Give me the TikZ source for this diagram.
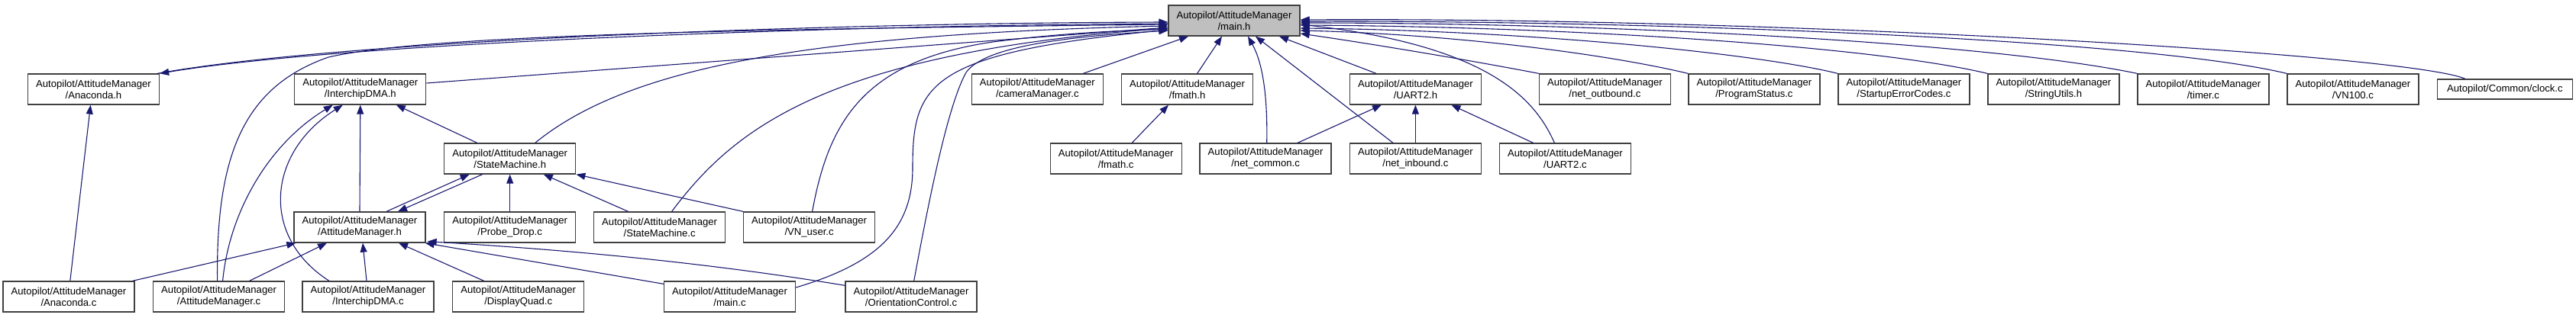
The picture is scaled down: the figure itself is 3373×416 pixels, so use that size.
\documentclass[tikz,border=0pt]{standalone}
\usepackage{fontspec}
\setmainfont{Liberation Sans}
\usetikzlibrary{arrows.meta,calc}
\definecolor{edgeblue}{HTML}{191970}
\definecolor{boxline}{HTML}{404040}
\definecolor{rootfill}{HTML}{BFBFBF}
\tikzset{
  file/.style={draw=boxline, line width=1.3pt, fill=white, minimum width=172pt, minimum height=40pt,
    inner sep=0pt, align=center, font=\fontsize{13.1}{15}\selectfont},
  rootfile/.style={file, fill=rootfill},
  onefile/.style={file, minimum width=177pt, minimum height=26pt},
  edge/.style={draw=edgeblue, line width=1.1pt, -{Triangle[length=12pt,width=9pt]}}
}
\begin{document}
\begin{tikzpicture}[x=1pt,y=-1pt]
\useasboundingbox (0,0) rectangle (3373,416);
% row 0
\node[rootfile] (mainh) at (1616,27) {Autopilot/AttitudeManager\\/main.h};
% row 1
\node[file] (anah)  at (122.5,117) {Autopilot/AttitudeManager\\/Anaconda.h};
\node[file] (idmah) at (471.8,117) {Autopilot/AttitudeManager\\/InterchipDMA.h};
\node[file] (camc)  at (1358.3,117) {Autopilot/AttitudeManager\\/cameraManager.c};
\node[file] (fmh)   at (1554.6,117) {Autopilot/AttitudeManager\\/fmath.h};
\node[file] (u2h)   at (1853.4,117) {Autopilot/AttitudeManager\\/UART2.h};
\node[file] (noc)   at (2101.4,117) {Autopilot/AttitudeManager\\/net\_outbound.c};
\node[file] (psc)   at (2296.9,117) {Autopilot/AttitudeManager\\/ProgramStatus.c};
\node[file] (sec)   at (2492.9,117) {Autopilot/AttitudeManager\\/StartupErrorCodes.c};
\node[file] (suh)   at (2688.9,117) {Autopilot/AttitudeManager\\/StringUtils.h};
\node[file] (tmc)   at (2884.9,117) {Autopilot/AttitudeManager\\/timer.c};
\node[file] (vnhc)  at (3080.9,117) {Autopilot/AttitudeManager\\/VN100.c};
\node[onefile] (clc) at (3279.9,117) {Autopilot/Common/clock.c};
% row 2
\node[file] (smh)  at (667.7,208) {Autopilot/AttitudeManager\\/StateMachine.h};
\node[file] (fmc)  at (1461.2,208) {Autopilot/AttitudeManager\\/fmath.c};
\node[file] (ncc)  at (1657.1,208) {Autopilot/AttitudeManager\\/net\_common.c};
\node[file] (nic)  at (1853.4,208) {Autopilot/AttitudeManager\\/net\_inbound.c};
\node[file] (u2c)  at (2049.4,208) {Autopilot/AttitudeManager\\/UART2.c};
% row 3
\node[file] (atth) at (471,298) {Autopilot/AttitudeManager\\/AttitudeManager.h};
\node[file] (pdc)  at (667.7,298) {Autopilot/AttitudeManager\\/Probe\_Drop.c};
\node[file] (smc)  at (863.6,298) {Autopilot/AttitudeManager\\/StateMachine.c};
\node[file] (vnc)  at (1059.6,298) {Autopilot/AttitudeManager\\/VN\_user.c};
% row 4
\node[file] (anac)  at (90,389) {Autopilot/AttitudeManager\\/Anaconda.c};
\node[file] (attc)  at (286.6,389) {Autopilot/AttitudeManager\\/AttitudeManager.c};
\node[file] (idmac) at (482,389) {Autopilot/AttitudeManager\\/InterchipDMA.c};
\node[file] (dqc)   at (678.7,389) {Autopilot/AttitudeManager\\/DisplayQuad.c};
\node[file] (mainc) at (955.5,389) {Autopilot/AttitudeManager\\/main.c};
\node[file] (orc)   at (1193,389) {Autopilot/AttitudeManager\\/OrientationControl.c};

% ---- edges into main.h, west side
\draw[edge] ($(anah.north east)+(-3,0)$) .. controls (450,52) and (1100,30) .. ($(mainh.west)+(0,2)$);
\draw[edge] ($(mainh.west)+(0,4)$) .. controls (1100,33) and (450,56) .. (anah.north east);
\draw[edge] ($(attc.north)+(-2,0)$) .. controls (283,210) and (315,115) .. (430,75)
   .. controls (560,45) and (1000,38) .. ($(mainh.west)+(0,5)$);
\draw[edge] ($(idmah.east)+(0,-8)$) -- ($(mainh.west)+(0,9)$);
\draw[edge] ($(smh.north)+(33,0)$) .. controls (820,90) and (1050,45) .. ($(mainh.west)+(0,7)$);
\draw[edge] ($(smc.north)+(16,0)$) .. controls (960,170) and (1080,70) .. ($(mainh.west)+(0,10)$);
\draw[edge] ($(vnc.north)+(4,0)$) .. controls (1085,160) and (1130,80) .. (1300,55)
   .. controls (1400,42) and (1480,40) .. ($(mainh.west)+(0,11)$);
\draw[edge] ($(mainc.east)+(0,-12)$) .. controls (1150,345) and (1195,300) .. (1195,220)
   .. controls (1195,110) and (1215,70) .. ($(mainh.west)+(0,12)$);
\draw[edge] ($(orc.north)+(3.7,0)$) .. controls (1215,270) and (1240,140) .. (1265,95)
   .. controls (1290,60) and (1400,48) .. ($(mainh.west)+(0,13)$);

% ---- edges into main.h, south side
\draw[edge] ($(camc.north)+(60,0)$) -- ($(mainh.south)+(-60,0)$);
\draw[edge] ($(fmh.north)+(13,0)$) -- ($(mainh.south)+(-16,0)$);
\draw[edge] ($(ncc.north)+(1.6,0)$) .. controls (1660,120) and (1652,80) .. ($(mainh.south)+(18,0)$);
\draw[edge] ($(nic.north)+(-29.4,0)$) -- ($(mainh.south)+(28,0)$);
\draw[edge] ($(u2h.north)+(-51.4,0)$) -- ($(mainh.south)+(59,0)$);

% ---- edges into main.h, east side
\draw[edge] ($(u2c.north)+(-14,0)$) .. controls (2010,130) and (1950,60) .. ($(mainh.east)+(0,5)$);
\draw[edge] (noc.north west) .. controls (1930,80) and (1800,58) .. ($(mainh.east)+(0,17)$);
\draw[edge] (psc.north west) .. controls (2100,70) and (1900,45) .. ($(mainh.east)+(0,13)$);
\draw[edge] (sec.north west) .. controls (2300,70) and (2000,40) .. ($(mainh.east)+(0,10)$);
\draw[edge] (suh.north west) .. controls (2450,60) and (2050,35) .. ($(mainh.east)+(0,6)$);
\draw[edge] (tmc.north west) .. controls (2600,55) and (2100,30) .. ($(mainh.east)+(0,3)$);
\draw[edge] (vnhc.north west) .. controls (2800,50) and (2150,27) .. ($(mainh.east)+(0,1)$);
\draw[edge] ($(clc.north)+(-52,0)$) .. controls (3150,70) and (2300,22) .. ($(mainh.east)+(0,-1)$);

% ---- lower edges
\draw[edge] ($(anac.north)+(1.8,0)$) -- ($(anah.south)+(-3.9,0)$);
\draw[edge] ($(smh.north)+(-43,0)$) -- ($(idmah.south)+(47,0)$);
\draw[edge] (atth.north) -- (idmah.south);
\draw[edge] ($(attc.north)+(5,0)$) .. controls (300,280) and (350,190) .. ($(idmah.south)+(-36,0)$);
\draw[edge] ($(idmac.north)+(-51,0)$) .. controls (340,310) and (350,200) .. ($(idmah.south)+(-23,0)$);
\draw[edge] ($(atth.north)+(35,0)$) -- ($(smh.south)+(-53,0)$);
\draw[edge] ($(smh.south)+(-36,0)$) -- ($(atth.north)+(50,0)$);
\draw[edge] (pdc.north) -- (smh.south);
\draw[edge] ($(smc.north)+(-41,0)$) -- ($(smh.south)+(44,0)$);
\draw[edge] (vnc.north west) -- (smh.south east);
\draw[edge] ($(anac.north east)+(-3,0)$) -- ($(atth.south west)+(3,0)$);
\draw[edge] ($(attc.north)+(40,0)$) -- ($(atth.south)+(-43,0)$);
\draw[edge] ($(idmac.north)+(-2,0)$) -- ($(atth.south)+(4,0)$);
\draw[edge] ($(dqc.north)+(-45,0)$) -- ($(atth.south)+(51,0)$);
\draw[edge] ($(mainc.north west)+(0,4)$) -- ($(atth.south east)+(-1,0)$);
\draw[edge] ($(orc.north west)+(0,6)$) .. controls (900,340) and (700,325) .. ($(atth.south east)+(2,-2)$);
\draw[edge] ($(fmc.north)+(21,0)$) -- ($(fmh.south)+(-24.6,0)$);
\draw[edge] ($(ncc.north)+(42,0)$) -- ($(u2h.south)+(-44.4,0)$);
\draw[edge] (nic.north) -- (u2h.south);
\draw[edge] ($(u2c.north)+(-41.8,0)$) -- ($(u2h.south)+(47,0)$);
\end{tikzpicture}
\end{document}
